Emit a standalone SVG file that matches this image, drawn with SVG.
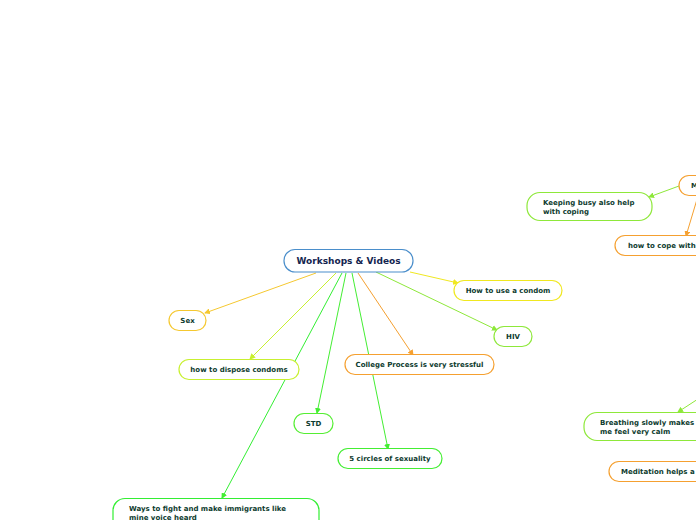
<svg xmlns="http://www.w3.org/2000/svg" width="696" height="520" viewBox="0 0 696 520">
<defs>
<style>
.n{fill:#fff;stroke-width:1.2}
.t{font-family:"DejaVu Sans",Verdana,sans-serif;font-weight:bold;font-size:7px;fill:#0d3b2e}
.c{fill:none;stroke-width:1}
</style>
<marker id="ay" viewBox="0 0 6 6" refX="5" refY="3" markerWidth="6" markerHeight="6" orient="auto" markerUnits="userSpaceOnUse"><path d="M0,0L6,3L0,6z" fill="#f0e820"/></marker>
<marker id="ag" viewBox="0 0 6 6" refX="5" refY="3" markerWidth="6" markerHeight="6" orient="auto" markerUnits="userSpaceOnUse"><path d="M0,0L6,3L0,6z" fill="#f5c830"/></marker>
<marker id="ayg" viewBox="0 0 6 6" refX="5" refY="3" markerWidth="6" markerHeight="6" orient="auto" markerUnits="userSpaceOnUse"><path d="M0,0L6,3L0,6z" fill="#c8f030"/></marker>
<marker id="alg" viewBox="0 0 6 6" refX="5" refY="3" markerWidth="6" markerHeight="6" orient="auto" markerUnits="userSpaceOnUse"><path d="M0,0L6,3L0,6z" fill="#8ee83a"/></marker>
<marker id="agr" viewBox="0 0 6 6" refX="5" refY="3" markerWidth="6" markerHeight="6" orient="auto" markerUnits="userSpaceOnUse"><path d="M0,0L6,3L0,6z" fill="#44ee33"/></marker>
<marker id="ao" viewBox="0 0 6 6" refX="5" refY="3" markerWidth="6" markerHeight="6" orient="auto" markerUnits="userSpaceOnUse"><path d="M0,0L6,3L0,6z" fill="#f5a030"/></marker>
</defs>
<rect width="696" height="520" fill="#fff"/>
<g id="connectors">
<path class="c" d="M410,272L458,283" stroke="#f0e820" marker-end="url(#ay)"/>
<path class="c" d="M316,273L205,313" stroke="#f5c830" marker-end="url(#ag)"/>
<path class="c" d="M336,273L250,359" stroke="#c8f030" marker-end="url(#ayg)"/>
<path class="c" d="M342,273L222,498" stroke="#33ee33" marker-end="url(#agr)"/>
<path class="c" d="M346,273L317,413" stroke="#44ee33" marker-end="url(#agr)"/>
<path class="c" d="M352,273L388,449" stroke="#44ee33" marker-end="url(#agr)"/>
<path class="c" d="M358,273L413,355" stroke="#f5a030" marker-end="url(#ao)"/>
<path class="c" d="M376,272L497,330" stroke="#8ee83a" marker-end="url(#alg)"/>
<path class="c" d="M679,186L649,197" stroke="#8ee83a" marker-end="url(#alg)"/>
<path class="c" d="M698,196L686,236" stroke="#f5a030" marker-end="url(#ao)"/>
<path class="c" d="M698,399L678,412" stroke="#8ee83a" marker-end="url(#alg)"/>
</g>
<g id="central">
<rect class="n" x="284" y="249.5" width="129" height="22.5" rx="11" stroke="#4a8ecb"/>
<text x="348.5" y="264" text-anchor="middle" style="font-family:'DejaVu Sans',Verdana,sans-serif;font-weight:bold;font-size:9px;fill:#14254f">Workshops &amp; Videos</text>
</g>
<g id="condom">
<rect class="n" x="454" y="280.5" width="108" height="20" rx="10" stroke="#f0e820"/>
<text class="t" x="508" y="293" text-anchor="middle">How to use a condom</text>
</g>
<g id="sex">
<rect class="n" x="169" y="310.5" width="37" height="20" rx="10" stroke="#f5c830"/>
<text class="t" x="187.5" y="323" text-anchor="middle">Sex</text>
</g>
<g id="hiv">
<rect class="n" x="494" y="326.5" width="38" height="20" rx="10" stroke="#8ee83a"/>
<text class="t" x="513" y="339" text-anchor="middle">HIV</text>
</g>
<g id="dispose">
<rect class="n" x="179" y="359.5" width="120" height="20" rx="10" stroke="#c8f030"/>
<text class="t" x="239" y="372" text-anchor="middle">how to dispose condoms</text>
</g>
<g id="college">
<rect class="n" x="345" y="354.5" width="149" height="20" rx="10" stroke="#f5a030"/>
<text class="t" x="419.5" y="367" text-anchor="middle">College Process is very stressful</text>
</g>
<g id="std">
<rect class="n" x="294" y="413.5" width="39" height="20" rx="10" stroke="#55ee33"/>
<text class="t" x="313.5" y="426" text-anchor="middle">STD</text>
</g>
<g id="circles">
<rect class="n" x="338" y="448.5" width="104" height="20" rx="10" stroke="#44ee33"/>
<text class="t" x="390" y="461" text-anchor="middle">5 circles of sexuality</text>
</g>
<g id="ways">
<rect class="n" x="113" y="498.5" width="206" height="34" rx="12" stroke="#33ee33"/>
<text class="t" x="129" y="511">Ways to fight and make immigrants like</text>
<text class="t" x="129" y="520">mine voice heard</text>
</g>
<g id="keeping">
<rect class="n" x="527" y="192.5" width="125" height="28" rx="13" stroke="#8ee83a"/>
<text class="t" x="543" y="205">Keeping busy also help</text>
<text class="t" x="543" y="214">with coping</text>
</g>
<g id="m">
<rect class="n" x="679" y="175.5" width="30" height="20" rx="10" stroke="#f5a030"/>
<text class="t" x="691" y="188">M</text>
</g>
<g id="cope">
<rect class="n" x="615" y="235.5" width="100" height="20" rx="10" stroke="#f5a030"/>
<text class="t" x="628" y="248">how to cope with</text>
</g>
<g id="breathing">
<rect class="n" x="584" y="412.5" width="130" height="28" rx="13" stroke="#8ee83a"/>
<text class="t" x="600" y="425">Breathing slowly makes</text>
<text class="t" x="600" y="434">me feel very calm</text>
</g>
<g id="meditation">
<rect class="n" x="609" y="461.5" width="100" height="20" rx="10" stroke="#f5a030"/>
<text class="t" x="621" y="474">Meditation helps a</text>
</g>
</svg>
